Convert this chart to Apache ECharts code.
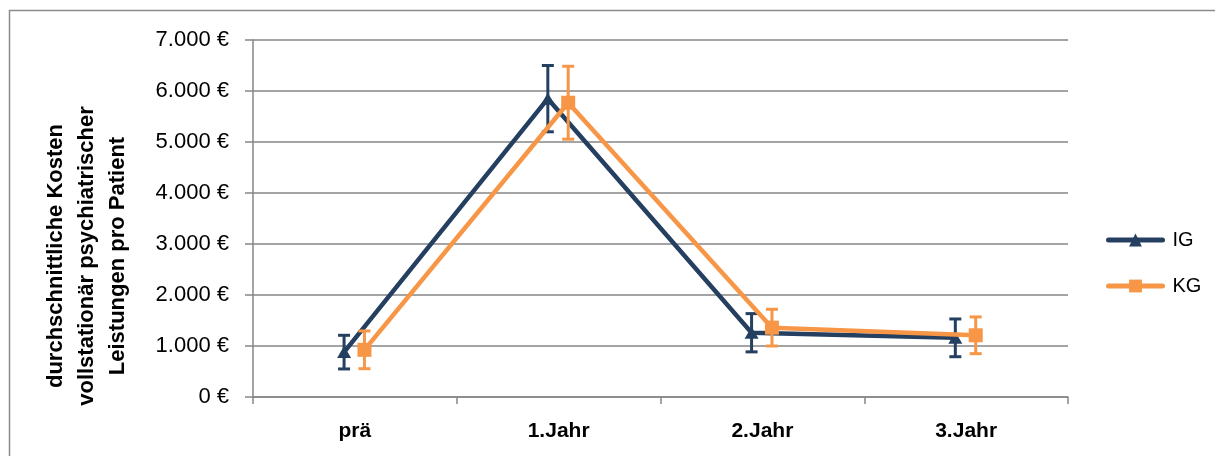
<!DOCTYPE html>
<html>
<head>
<meta charset="utf-8">
<script src="https://cdn.jsdelivr.net/npm/echarts@6/dist/echarts.min.js"></script>
<style>
html,body{margin:0;padding:0;background:#fff;}
#chart{width:1215px;height:456px;}
</style>
</head>
<body>
<div id="chart"></div>
<script>
var categories = ['prä', '1.Jahr', '2.Jahr', '3.Jahr'];
var seriesNames = ['IG', 'KG'];
var igValues = [880, 5850, 1260, 1160];
var igErrors = [330, 650, 375, 370];
var kgValues = [925, 5770, 1360, 1210];
var kgErrors = [370, 715, 360, 360];
var yTicks = [0, 1000, 2000, 3000, 4000, 5000, 6000, 7000];

var IG_COLOR = '#243F60';
var KG_COLOR = '#F79646';
var FONT = 'Liberation Sans';

function pts(vals, off) {
  return vals.map(function (v, i) { return [i + 0.5 + off, v]; });
}
function errData(vals, errs, off) {
  return vals.map(function (v, i) { return [i + 0.5 + off, v - errs[i], v + errs[i]]; });
}
function errRender(color) {
  return function (params, api) {
    var x = api.value(0);
    var lo = api.coord([x, api.value(1)]);
    var hi = api.coord([x, api.value(2)]);
    var cw = 6;
    var st = { stroke: color, lineWidth: 3 };
    return {
      type: 'group',
      children: [
        { type: 'line', shape: { x1: lo[0], y1: lo[1], x2: hi[0], y2: hi[1] }, style: st },
        { type: 'line', shape: { x1: lo[0] - cw, y1: lo[1], x2: lo[0] + cw, y2: lo[1] }, style: st },
        { type: 'line', shape: { x1: hi[0] - cw, y1: hi[1], x2: hi[0] + cw, y2: hi[1] }, style: st }
      ]
    };
  };
}
function fmt(v) {
  var s = String(Math.round(v));
  return s.replace(/\B(?=(\d{3})+(?!\d))/g, '.') + ' €';
}

var chart = echarts.init(document.getElementById('chart'), null, { renderer: 'canvas' });
var IG_OFF = -0.053, KG_OFF = 0.047;

chart.setOption({
  animation: false,
  backgroundColor: '#ffffff',
  textStyle: { fontFamily: FONT },
  graphic: [
    { type: 'rect', shape: { x: 9.5, y: 10.5, width: 1230, height: 470 },
      style: { fill: 'none', stroke: '#8c8c8c', lineWidth: 1.5 }, z: -1 },
    { type: 'text', x: 87, y: 256, rotation: Math.PI / 2,
      style: { text: 'durchschnittliche Kosten\nvollstationär psychiatrischer\nLeistungen pro Patient',
        font: 'bold 22px "Liberation Sans"', fill: '#000', align: 'center', verticalAlign: 'middle',
        lineHeight: 31 } }
  ],
  grid: { left: 253, right: 147, top: 40, bottom: 59, containLabel: false },
  legend: {
    orient: 'vertical', left: 1101, top: 225,
    itemWidth: 54, itemHeight: 16, itemGap: 26,
    data: [
      { name: seriesNames[0], itemStyle: { color: IG_COLOR }, lineStyle: { color: IG_COLOR, width: 5, cap: 'round' } },
      { name: seriesNames[1], itemStyle: { color: KG_COLOR }, lineStyle: { color: KG_COLOR, width: 5, cap: 'round' } }
    ],
    textStyle: { fontSize: 20, color: '#000', fontFamily: FONT, padding: [0, 0, 0, 5] }
  },
  xAxis: [
    { type: 'category', data: categories, boundaryGap: true,
      axisLine: { lineStyle: { color: '#868686', width: 1.5 } },
      axisTick: { show: true, length: 7, lineStyle: { color: '#868686', width: 1.5 } },
      axisLabel: { fontSize: 21, fontWeight: 'bold', color: '#000', margin: 24, fontFamily: FONT },
      splitLine: { show: false } },
    { type: 'value', min: 0, max: 4, show: false }
  ],
  yAxis: {
    type: 'value', min: 0, max: 7000, interval: 1000,
    axisLine: { show: true, lineStyle: { color: '#868686', width: 1.5 } },
    axisTick: { show: true, length: 8, lineStyle: { color: '#868686', width: 1.5 } },
    axisLabel: { fontSize: 22, color: '#000', margin: 24, fontFamily: FONT, formatter: fmt },
    splitLine: { show: true, lineStyle: { color: '#868686', width: 1.5 } }
  },
  series: [
    { name: seriesNames[0], type: 'line', xAxisIndex: 1, data: pts(igValues, IG_OFF),
      symbol: 'triangle', symbolSize: [14, 12], showAllSymbol: true,
      lineStyle: { color: IG_COLOR, width: 4.5 }, itemStyle: { color: IG_COLOR }, z: 3 },
    { name: seriesNames[0], type: 'custom', xAxisIndex: 1, data: errData(igValues, igErrors, IG_OFF),
      renderItem: errRender(IG_COLOR), z: 4, encode: { x: 0, y: [1, 2] } },
    { name: seriesNames[1], type: 'line', xAxisIndex: 1, data: pts(kgValues, KG_OFF),
      symbol: 'rect', symbolSize: 14, showAllSymbol: true,
      lineStyle: { color: KG_COLOR, width: 4.5 }, itemStyle: { color: KG_COLOR }, z: 5 },
    { name: seriesNames[1], type: 'custom', xAxisIndex: 1, data: errData(kgValues, kgErrors, KG_OFF),
      renderItem: errRender(KG_COLOR), z: 6, encode: { x: 0, y: [1, 2] } }
  ]
});
</script>
</body>
</html>
